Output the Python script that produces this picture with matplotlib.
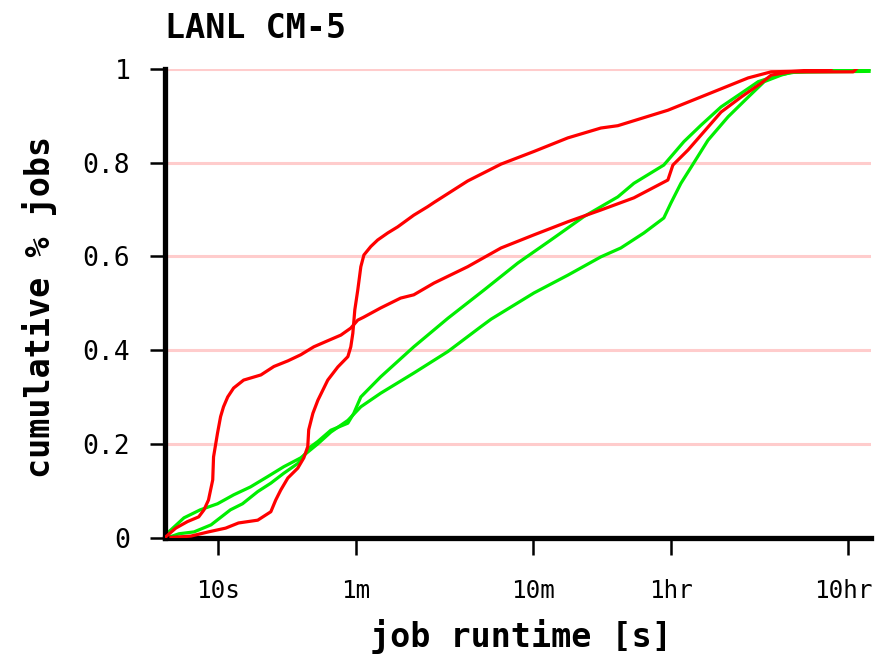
import matplotlib
matplotlib.use("Agg")
import matplotlib.pyplot as plt
import matplotlib.transforms as mtransforms

# Tick definitions
x_ticks = [10, 60, 600, 3600, 36000]
x_tick_labels = ["10s", "1m", "10m", "1hr", "10hr"]
y_ticks = [0, 0.2, 0.4, 0.6, 0.8, 1.0]
y_tick_labels = ["0", "0.2", "0.4", "0.6", "0.8", "1"]

# Red curve A (steep jump near 10s, lower in middle)
red_a_t = [5.0, 5.75, 6.7, 7.75, 8.3, 8.8, 9.3, 9.4, 9.9, 10.3, 10.7, 11.3, 12.2, 13.9,
           17.4, 20.6, 24.7, 29.2, 34.6, 41.5, 49.2, 56, 61.3, 66, 82.6, 107, 127, 165,
           256, 395, 606, 942, 1446, 2222, 3457, 3690, 4490, 5824, 6899, 8956, 11640,
           13250, 17190, 38500, 40000]
red_a_y = [0.0, 0.02, 0.034, 0.044, 0.059, 0.08, 0.123, 0.172, 0.223, 0.258, 0.279, 0.30,
           0.319, 0.336, 0.347, 0.365, 0.377, 0.39, 0.407, 0.42, 0.432, 0.447, 0.464, 0.47,
           0.49, 0.511, 0.518, 0.543, 0.578, 0.618, 0.646, 0.674, 0.699, 0.725, 0.763,
           0.795, 0.827, 0.876, 0.908, 0.94, 0.97, 0.987, 0.994, 0.994, 1.0]

# Red curve B (steep jump near 1m, upper in middle)
red_b_t = [5.4, 7.0, 8.8, 11, 13, 16.7, 19.8, 21.1, 22.5, 24.7, 28.1, 30.4, 32.0, 32.4,
           34.2, 36.5, 41.5, 47.3, 53.9, 56, 57.5, 59, 61.3, 63.8, 66.4, 72.6, 79.4, 90.5,
           103, 127, 152, 165, 256, 395, 606, 942, 1446, 1803, 3457, 6056, 9820, 13250,
           17190, 28860]
red_b_y = [0.0, 0.003, 0.012, 0.02, 0.031, 0.037, 0.055, 0.08, 0.101, 0.127, 0.148, 0.17,
           0.194, 0.23, 0.265, 0.293, 0.336, 0.364, 0.386, 0.407, 0.436, 0.486, 0.528,
           0.578, 0.603, 0.621, 0.635, 0.65, 0.663, 0.688, 0.706, 0.715, 0.761, 0.797,
           0.824, 0.853, 0.874, 0.879, 0.912, 0.949, 0.981, 0.994, 0.995, 1.0]

# Green curve 1 (upper in middle)
green_1_t = [5.2, 6.0, 7.3, 9.1, 11.7, 13.7, 16.7, 19.8, 23.4, 28.1, 33.3, 36.5, 43.2,
             53.9, 58.2, 63.8, 82.6, 127, 198, 316, 492, 755, 1160, 1803, 2222, 3279,
             4259, 5317, 6899, 8956, 11190, 14520, 17870, 30800, 47300]
green_1_y = [0.0, 0.008, 0.012, 0.027, 0.059, 0.072, 0.098, 0.116, 0.137, 0.158, 0.194,
             0.205, 0.229, 0.244, 0.265, 0.30, 0.343, 0.407, 0.468, 0.528, 0.586, 0.635,
             0.685, 0.727, 0.756, 0.795, 0.845, 0.88, 0.919, 0.948, 0.973, 0.987, 0.993,
             1.0, 1.0]

# Green curve 2 (lower in middle)
green_2_t = [5.0, 5.25, 6.4, 7.9, 9.9, 12.2, 15.2, 19.0, 23.4, 29.2, 36.5, 43.2, 53.9,
             63.8, 82.6, 127, 198, 304, 347, 606, 942, 1446, 1875, 2531, 3279, 3597, 4096,
             4668, 5824, 7563, 9820, 12100, 15100, 17190, 47300]
green_2_y = [0.0, 0.012, 0.042, 0.059, 0.072, 0.091, 0.108, 0.13, 0.151, 0.17, 0.2,
             0.225, 0.25, 0.279, 0.308, 0.351, 0.397, 0.45, 0.466, 0.522, 0.56, 0.599,
             0.618, 0.65, 0.682, 0.714, 0.756, 0.79, 0.848, 0.898, 0.94, 0.973, 0.987,
             0.993, 0.995]

W, H = 876, 655
fig = plt.figure(figsize=(W / 100, H / 100), dpi=100)
ax = fig.add_axes([165 / W, 1 - 537.5 / H, (871 - 165) / W, (537.5 - 69) / H])

ax.set_xscale("log")
ax.set_xlim(5.0, 48500)
ax.set_ylim(0, 1)

for yv in y_ticks[1:]:
    ax.axhline(yv, color="#ffcccc", lw=2.2, zorder=0)

lw = 2.3
ax.plot(green_2_t, green_2_y, color="#00ee00", lw=lw, zorder=2)
ax.plot(green_1_t, green_1_y, color="#00ee00", lw=lw, zorder=2)
ax.plot(red_a_t, red_a_y, color="#ff0000", lw=lw, zorder=3)
ax.plot(red_b_t, red_b_y, color="#ff0000", lw=lw, zorder=3)

for s in ["top", "right"]:
    ax.spines[s].set_visible(False)
ax.spines["left"].set_linewidth(3.8)
ax.spines["bottom"].set_linewidth(3.8)
ax.spines["left"].set_capstyle("projecting")
ax.spines["bottom"].set_capstyle("projecting")

ax.set_xticks(x_ticks)
ax.set_xticklabels(x_tick_labels)
ax.xaxis.set_minor_locator(matplotlib.ticker.NullLocator())
ax.set_yticks(y_ticks)
ax.set_yticklabels(y_tick_labels)

ax.tick_params(axis="x", length=12, width=1.8, pad=18, labelsize=17.5, direction="out")
ax.tick_params(axis="y", length=11, width=1.8, pad=14, labelsize=19, direction="out")
for lab in ax.get_xticklabels() + ax.get_yticklabels():
    lab.set_family("DejaVu Sans Mono")

# nudge the last x tick label slightly left so it stays inside the canvas
last = ax.get_xticklabels()[-1]
last.set_transform(last.get_transform() +
                   mtransforms.ScaledTranslation(-5 / 100, 0, fig.dpi_scale_trans))

fig.text(165 / W, 1 - 38 / H, "LANL CM-5", family="DejaVu Sans Mono", weight="bold",
         fontsize=24, ha="left", va="baseline")
fig.text(521 / W, 1 - 636 / H, "job runtime [s]", family="DejaVu Sans Mono",
         weight="bold", fontsize=24, ha="center", va="center")
fig.text(40 / W, 1 - 307 / H, "cumulative % jobs", family="DejaVu Sans Mono",
         weight="bold", fontsize=24, ha="center", va="center", rotation=90)

fig.savefig("out.png", dpi=100)
